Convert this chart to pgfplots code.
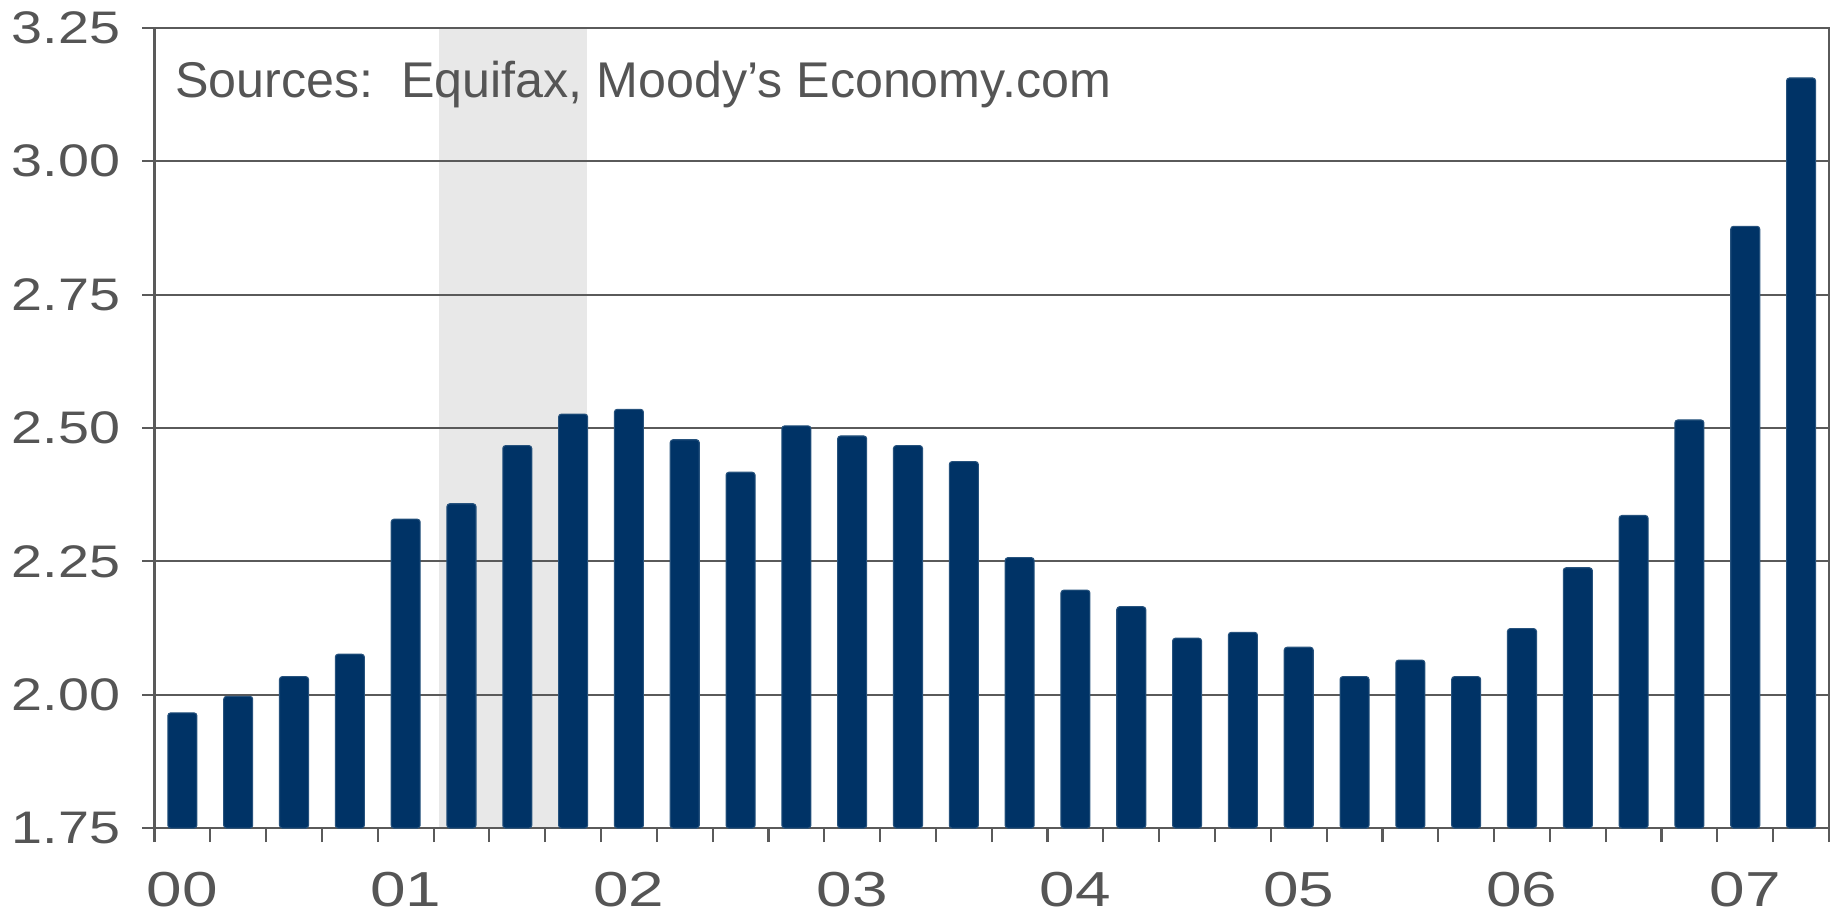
\documentclass[border=0pt]{standalone}
\usepackage{pgfplots}
\pgfplotsset{compat=1.18}
\usepackage{fontspec}
\setmainfont{Liberation Sans}
\definecolor{barblue}{RGB}{0,51,102}
\definecolor{txt}{RGB}{85,85,85}
\definecolor{gridc}{RGB}{90,90,90}
\definecolor{shade}{RGB}{232,232,232}
\begin{document}
\begin{tikzpicture}
\begin{axis}[
  set layers,
  width=167.6mm, height=80.1mm, scale only axis,
  xmin=0, xmax=30, ymin=1.75, ymax=3.25,
  ytick={1.75,2.00,2.25,2.50,2.75,3.00,3.25},
  yticklabel style={/pgf/number format/fixed, /pgf/number format/fixed zerofill, /pgf/number format/precision=2},
  /pgf/number format/assume math mode=true,
  ymajorgrids, major grid style={gridc, line width=0.6pt},
  axis line style={gridc, line width=0.6pt},
  xtick={0.5,4.5,8.5,12.5,16.5,20.5,24.5,28.5},
  xticklabels={00,01,02,03,04,05,06,07},
  minor xtick={0,1,...,30},
  xtick pos=bottom, ytick pos=left,
  tick align=outside,
  major tick length=1.2mm, minor tick length=1.4mm,
  major x tick style={draw=none},
  minor x tick style={gridc, line width=0.6pt},
  major y tick style={gridc, line width=0.6pt},
  yticklabel style={font=\fontsize{13}{15}\selectfont\addfontfeatures{FakeStretch=1.22}, text=txt, xshift=-1mm},
  xticklabel style={font=\fontsize{14}{16}\selectfont\addfontfeatures{FakeStretch=1.3}, text=txt, inner xsep=0pt, inner ysep=2.5pt, yshift=-2.27mm},
  bar width=0.52,
]
\addplot[fill=shade, draw=none, on layer=axis background] coordinates {(5.1,1.75) (5.1,3.25) (7.75,3.25) (7.75,1.75)} -- cycle;
\addplot[ybar, fill=barblue, draw=barblue!85!white, line width=0.3pt, rounded corners=0.8pt] coordinates {
(0.5,1.966) (1.5,1.997) (2.5,2.034) (3.5,2.076) (4.5,2.329) (5.5,2.358)
(6.5,2.467) (7.5,2.526) (8.5,2.535) (9.5,2.478) (10.5,2.417) (11.5,2.504)
(12.5,2.485) (13.5,2.467) (14.5,2.437) (15.5,2.257) (16.5,2.196) (17.5,2.165)
(18.5,2.106) (19.5,2.117) (20.5,2.089) (21.5,2.034) (22.5,2.065) (23.5,2.034)
(24.5,2.124) (25.5,2.238) (26.5,2.336) (27.5,2.515) (28.5,2.878) (29.5,3.156)
};
\node[anchor=base west, inner sep=0pt, text=txt, font=\fontsize{14.3}{16}\selectfont] at (rel axis cs:0,1) [xshift=2.0mm, yshift=-7.0mm] {Sources:\ \ Equifax, Moody's Economy.com};
\end{axis}
\end{tikzpicture}
\end{document}
